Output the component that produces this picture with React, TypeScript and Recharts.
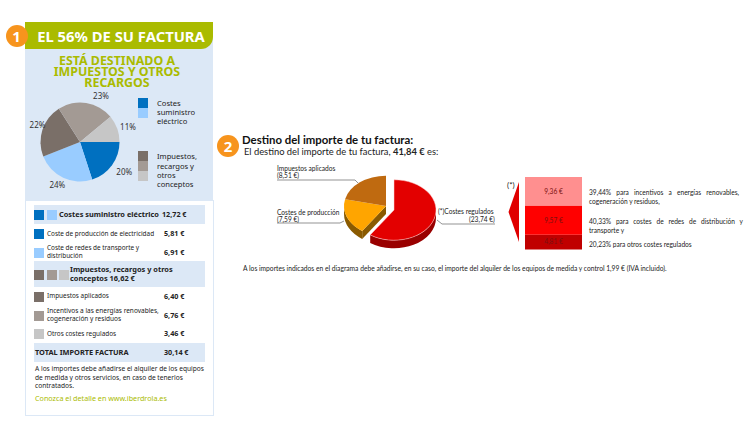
import React from "react";
import { PieChart, Pie, Cell, BarChart, Bar, XAxis, YAxis, LabelList } from "recharts";

const shareNames = ["Producción", "Redes", "Impuestos", "Incentivos", "Otros"];
const shareValues = [20, 24, 22, 23, 11];
const shareColors = ["#0070C0", "#99CCFF", "#7A6F68", "#A39A94", "#C6C6C6"];
const shareLabelNudge = [[3, 0], [-1, -4], [6, -2], [13, 4], [0, 2]];

const destNames = ["Costes regulados", "Costes de producción", "Impuestos aplicados"];
const destValues = [23.74, 7.59, 8.51];
const destTop = ["#E30000", "#FFA500", "#BF6A10"];
const destSide = ["#990000", "#8A5A00", "#8A5A00"];
const destOffset = [[4, 2], [-4, -2], [-4, -2]];

const regulatedSeries = ["otros", "redes", "incentivos"];
const regulatedValues = [4.81, 9.57, 9.36];
const regulatedLabels = ["4,81 €", "9,57 €", "9,36 €"];
const regulatedColors = ["#C00000", "#FF0000", "#FF8F8F"];

const shareData = shareNames.map((name, i) => ({ name, value: shareValues[i] }));
const destData = destNames.map((name, i) => ({ name, value: destValues[i] }));
const regulatedData = [
  Object.fromEntries(regulatedSeries.map((s, i) => [s, regulatedValues[i]])),
];

const SANS = "'Noto Sans', 'Open Sans', sans-serif";
const LATO = "Lato, 'Noto Sans', sans-serif";
const BLUE = "#DCE8F6";
const GREEN = "#AABB00";

function T({ x, y, size = 7, bold = false, color = "#222", w, align, font = SANS, children, style }: any) {
  return (
    <div
      style={{
        position: "absolute", left: x, top: y - size * 0.75, fontSize: size,
        lineHeight: `${size * 1.5}px`, fontWeight: bold ? 700 : 400, color, width: w,
        textAlign: align, whiteSpace: "nowrap", fontFamily: font, ...style,
      }}
    >
      {children}
    </div>
  );
}
function Box({ x, y, w, h, c, style }: any) {
  return <div style={{ position: "absolute", left: x, top: y, width: w, height: h, background: c, ...style }} />;
}
function Badge({ x, y, n }: any) {
  return (
    <div
      style={{
        position: "absolute", left: x - 11, top: y - 11, width: 22, height: 22, borderRadius: 11,
        background: "#F7941D", color: "#fff", fontWeight: 700, fontSize: 15, lineHeight: "22px",
        textAlign: "center", fontFamily: SANS,
      }}
    >
      {n}
    </div>
  );
}

function shareLabel(p: any) {
  const a = (-p.midAngle * Math.PI) / 180;
  const r = 51;
  const n = shareLabelNudge[p.index];
  return (
    <text
      x={p.cx + r * Math.cos(a) + n[0]} y={p.cy + r * Math.sin(a) + n[1]}
      textAnchor="middle" dominantBaseline="central" fontSize={8} fill="#333" fontFamily={SANS}
    >
      {p.value}%
    </text>
  );
}

function Slice3D(p: any) {
  const i = p.index;
  const cx = p.cx + destOffset[i][0];
  const cy = p.cy + destOffset[i][1];
  const rx = p.outerRadius;
  const ry = rx * 0.72;
  const d = 8;
  const t1 = 90 - p.startAngle;
  const t2 = 90 - p.endAngle;
  const pt = (t: number, dy = 0) => {
    const q = (t * Math.PI) / 180;
    return `${cx + rx * Math.sin(q)} ${cy - ry * Math.cos(q) + dy}`;
  };
  const top = `M${cx} ${cy} L${pt(t1)} A${rx} ${ry} 0 ${t2 - t1 > 180 ? 1 : 0} 1 ${pt(t2)} Z`;
  const w1 = Math.max(t1, 90);
  const w2 = Math.min(t2, 270);
  const wall = w2 > w1
    ? `M${pt(w1)} A${rx} ${ry} 0 0 1 ${pt(w2)} L${pt(w2, d)} A${rx} ${ry} 0 0 0 ${pt(w1, d)} Z`
    : null;
  const cut = i === 1
    ? `M${cx} ${cy} L${pt(t1)} L${pt(t1, d)} L${cx} ${cy + d} Z`
    : null;
  return (
    <g>
      {wall && <path d={wall} fill={destSide[i]} />}
      {cut && <path d={cut} fill={destSide[i]} />}
      <path d={top} fill={destTop[i]} stroke={i === 0 ? "#FFD0D0" : "none"} strokeWidth={0.5} />
    </g>
  );
}

const swatches = [
  [34, 210, "#0070C0"], [47, 210, "#99CCFF"],
  [34, 229, "#0070C0"], [34, 248, "#99CCFF"],
  [34, 270, "#7A6F68"], [47, 270, "#A39A94"], [59, 270, "#C6C6C6"],
  [34, 292, "#7A6F68"], [34, 311, "#A39A94"], [34, 329, "#C6C6C6"],
];

export default function App() {
  return (
    <div style={{ position: "absolute", left: 0, top: 0, width: 750, height: 423, background: "#fff", overflow: "hidden", fontFamily: SANS }}>
      {/* Left panel */}
      <Box x={25} y={22} w={188} h={178} c={BLUE} />
      <Box x={25} y={200} w={187} h={214} c="#fff" style={{ border: "1px solid #DCE8F6" }} />
      <Box x={25} y={22} w={188} h={27} c={GREEN} style={{ borderBottomRightRadius: 12 }} />
      <Badge x={16.5} y={36} n="1" />
      <T x={25} y={36} w={192} align="center" size={14.8} bold color="#fff">EL 56% DE SU FACTURA</T>
      <div
        style={{
          position: "absolute", left: 25, top: 54.5, width: 184, textAlign: "center", fontSize: 12.4,
          lineHeight: "11.4px", fontWeight: 700, color: GREEN, fontFamily: SANS,
        }}
      >
        ESTÁ DESTINADO A<br />IMPUESTOS Y OTROS<br />RECARGOS
      </div>

      <div style={{ position: "absolute", left: 20, top: 82 }}>
        <PieChart width={120} height={120} margin={{ top: 0, right: 0, bottom: 0, left: 0 }}>
          <Pie
            data={shareData} dataKey="value" nameKey="name" cx={60} cy={60} outerRadius={39.5}
            startAngle={0} endAngle={-360} stroke="none" isAnimationActive={false}
            label={shareLabel} labelLine={false}
          >
            {shareData.map((d, i) => <Cell key={d.name} fill={shareColors[i]} />)}
          </Pie>
        </PieChart>
      </div>

      <Box x={138} y={98} w={10} h={10} c="#0070C0" />
      <Box x={138} y={108} w={10} h={10} c="#99CCFF" />
      <Box x={138} y={150.5} w={10} h={10.2} c="#7A6F68" />
      <Box x={138} y={160.7} w={10} h={10.2} c="#A39A94" />
      <Box x={138} y={170.9} w={10} h={10.2} c="#C6C6C6" />
      <T x={157} y={104} size={7.6}>Costes</T>
      <T x={157} y={113} size={7.6}>suministro</T>
      <T x={157} y={122} size={7.6}>eléctrico</T>
      <T x={157} y={157} size={7.6}>Impuestos,</T>
      <T x={157} y={166.5} size={7.6}>recargos y</T>
      <T x={157} y={176} size={7.6}>otros</T>
      <T x={157} y={185} size={7.6}>conceptos</T>

      {/* Table */}
      <Box x={34} y={205} w={171} h={19} c={BLUE} />
      <Box x={34} y={261} w={171} h={26} c={BLUE} />
      <Box x={34} y={343} w={171} h={19} c={BLUE} />
      {swatches.map(([x, y, c], i) => <Box key={i} x={x} y={y} w={10} h={9.5} c={c} />)}
      <T x={59} y={214.5} size={7.4} bold>Costes suministro eléctrico</T>
      <T x={162} y={214.5} size={7.2} bold>12,72 €</T>
      <T x={47} y={233.5} size={6.4}>Coste de producción de electricidad</T>
      <T x={164} y={233.5} size={7.2} bold>5,81 €</T>
      <T x={47} y={248} size={6.4}>Coste de redes de transporte y</T>
      <T x={47} y={256} size={6.4}>distribución</T>
      <T x={164} y={252} size={7.2} bold>6,91 €</T>
      <T x={70} y={270} size={7.4} bold>Impuestos, recargos y otros</T>
      <T x={70} y={279} size={7.4} bold>conceptos 16,62 €</T>
      <T x={47} y={296} size={6.4}>Impuestos aplicados</T>
      <T x={164} y={296} size={7.2} bold>6,40 €</T>
      <T x={47} y={311} size={6.5}>Incentivos a las energías renovables,</T>
      <T x={47} y={319} size={6.5}>cogeneración y residuos</T>
      <T x={164} y={315} size={7.2} bold>6,76 €</T>
      <T x={47} y={333.5} size={6.4}>Otros costes regulados</T>
      <T x={164} y={333.5} size={7.2} bold>3,46 €</T>
      <T x={35} y={352.5} size={7.4} bold>TOTAL IMPORTE FACTURA</T>
      <T x={164} y={352.5} size={7.2} bold>30,14 €</T>
      <T x={35} y={369} size={6.6}>A los importes debe añadirse el alquiler de los equipos</T>
      <T x={35} y={378} size={6.6}>de medida y otros servicios, en caso de tenerlos</T>
      <T x={35} y={386} size={6.6}>contratados.</T>
      <T x={35} y={398} size={7.2} color={GREEN}>Conozca el detalle en www.iberdrola.es</T>

      {/* Right section */}
      <Badge x={228} y={146} n="2" />
      <T x={242} y={140} size={11.4} bold color="#111" font={LATO}>Destino del importe de tu factura:</T>
      <T x={244} y={152.5} size={9.35} font={LATO}>El destino del importe de tu factura, <b>41,84 €</b> es:</T>

      <svg width={750} height={423} style={{ position: "absolute", left: 0, top: 0 }}>
        <polyline points="277,180 355,180 358,183" fill="none" stroke="#666" strokeWidth={0.7} />
        <polyline points="277,223 340,223 344,221" fill="none" stroke="#666" strokeWidth={0.7} />
        <polyline points="437,220 442,224 495,224" fill="none" stroke="#666" strokeWidth={0.7} />
        <polygon points="508.5,212 519,182 519,242" fill="#E00000" />
      </svg>

      <T x={277} y={169} size={6.6} font={LATO}>Impuestos aplicados</T>
      <T x={277} y={176} size={6.6} font={LATO}>(8,51 €)</T>
      <T x={277} y={212.5} size={6.6} font={LATO}>Costes de producción</T>
      <T x={277} y={219.5} size={6.6} font={LATO}>(7,59 €)</T>
      <T x={438} y={212} size={6.6} font={LATO}>(*)Costes regulados</T>
      <T x={469} y={219.5} size={6.6} font={LATO}>(23,74 €)</T>

      <div style={{ position: "absolute", left: 330, top: 160 }}>
        <PieChart width={120} height={100} margin={{ top: 0, right: 0, bottom: 0, left: 0 }}>
          <Pie
            data={destData} dataKey="value" nameKey="name" cx={60} cy={48} outerRadius={42}
            startAngle={90} endAngle={-270} isAnimationActive={false} shape={Slice3D} labelLine={false}
          />
        </PieChart>
      </div>

      <T x={507} y={185} size={8} font={LATO}>(*)</T>

      <div style={{ position: "absolute", left: 525, top: 177 }}>
        <BarChart
          width={57} height={72.5} data={regulatedData} stackOffset="none" barCategoryGap={0}
          margin={{ top: 0, right: 0, bottom: 0, left: 0 }}
        >
          <XAxis hide type="category" />
          <YAxis hide domain={[0, 23.74]} />
          {regulatedSeries.map((s, i) => (
            <Bar key={s} dataKey={s} stackId="a" fill={regulatedColors[i]} isAnimationActive={false}>
              <LabelList
                position="center"
                formatter={() => regulatedLabels[i]}
                fontSize={6.6} fill="#7A1010" fontFamily={LATO}
              />
            </Bar>
          ))}
        </BarChart>
      </div>

      <T x={589} y={192.5} w={150} size={6.6} font={LATO} style={{ textAlign: "justify", textAlignLast: "justify" }}>39,44% para incentivos a energías renovables,</T>
      <T x={589} y={201.5} size={6.6} font={LATO}>cogeneración y residuos,</T>
      <T x={589} y={222} w={154} size={6.6} font={LATO} style={{ textAlign: "justify", textAlignLast: "justify" }}>40,33% para costes de redes de distribución y</T>
      <T x={589} y={230.5} size={6.6} font={LATO}>transporte y</T>
      <T x={589} y={245} size={6.6} font={LATO}>20,23% para otros costes regulados</T>
      <T x={243} y={268} size={6.7} font={LATO}>A los importes indicados en el diagrama debe añadirse, en su caso, el importe del alquiler de los equipos de medida y control 1,99 €  (IVA incluido).</T>
    </div>
  );
}
